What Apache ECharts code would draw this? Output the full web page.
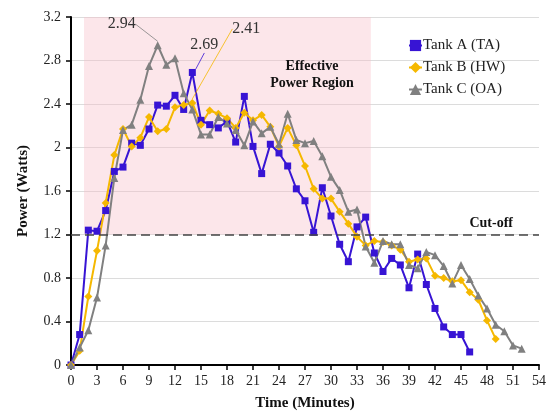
<!DOCTYPE html>
<html>
<head>
<meta charset="utf-8">
<script src="https://cdn.jsdelivr.net/npm/echarts@6/dist/echarts.min.js"></script>
<style>
  html, body { margin: 0; padding: 0; background: #fff; }
  #chart { width: 554px; height: 413px; }
</style>
</head>
<body>
<div id="chart"></div>
<script>
// power readings, one per minute starting at t = 0
const tankA = [0, 0.28, 1.24, 1.23, 1.42, 1.78, 1.82, 2.04, 2.02, 2.17, 2.39, 2.38, 2.48, 2.35, 2.69, 2.25, 2.21, 2.18, 2.24, 2.05, 2.47, 2.01, 1.76, 2.03, 1.95, 1.83, 1.62, 1.51, 1.22, 1.63, 1.37, 1.11, 0.95, 1.27, 1.36, 1.03, 0.86, 0.98, 0.92, 0.71, 1.02, 0.74, 0.52, 0.35, 0.28, 0.28, 0.12];
const tankB = [0, 0.13, 0.63, 1.05, 1.49, 1.93, 2.17, 2.01, 2.09, 2.28, 2.15, 2.17, 2.37, 2.39, 2.41, 2.21, 2.34, 2.31, 2.27, 2.18, 2.32, 2.25, 2.30, 2.19, 2.01, 2.18, 2.02, 1.83, 1.62, 1.53, 1.53, 1.41, 1.30, 1.18, 1.10, 1.14, 1.13, 1.10, 1.06, 0.95, 0.97, 0.98, 0.82, 0.80, 0.77, 0.78, 0.67, 0.60, 0.41, 0.24];
const tankC = [0, 0.16, 0.32, 0.62, 1.10, 1.72, 2.16, 2.21, 2.44, 2.75, 2.94, 2.76, 2.82, 2.50, 2.35, 2.12, 2.12, 2.28, 2.22, 2.16, 2.02, 2.24, 2.13, 2.19, 2.03, 2.31, 2.07, 2.04, 2.06, 1.92, 1.73, 1.61, 1.41, 1.43, 1.09, 0.94, 1.14, 1.11, 1.11, 0.92, 0.89, 1.04, 1.01, 0.91, 0.75, 0.92, 0.79, 0.64, 0.52, 0.37, 0.31, 0.18, 0.15];
const seriesNames = ['Tank A (TA)', 'Tank B (HW)', 'Tank C (OA)'];
const cutOff = 1.2;
const regionX = [1.5, 34.6];   // effective power region, minutes
const regionY = [1.2, 3.2];

const serif = '"Liberation Serif", "DejaVu Serif", serif';

// peak of each series gets an annotated label
function toData(arr, color) {
  let peak = 0;
  arr.forEach((v, i) => { if (v > arr[peak]) peak = i; });
  return arr.map((v, i) => {
    if (i !== peak) return [i, v];
    return {
      value: [i, v],
      label: {
        show: true,
        formatter: v.toFixed(2),
        color: '#333',
        fontFamily: serif,
        fontSize: 16
      },
      labelLine: { show: true, lineStyle: { color: color, width: 0.8 } }
    };
  });
}

const labelShift = {
  0: { dx: 12, dy: -11 },
  1: { dx: 54, dy: -57 },
  2: { dx: -36, dy: -4 }
};

const chart = echarts.init(document.getElementById('chart'));
const colors = ['#3714d4', '#f5b800', '#808080'];

const option = {
  animation: false,
  grid: { left: 71, right: 15, top: 17, bottom: 48, outerBoundsMode: 'none' },
  legend: {
    orient: 'vertical',
    left: 403,
    top: 33,
    itemGap: 7,
    itemWidth: 13,
    itemHeight: 14,
    textStyle: { fontFamily: serif, fontSize: 15, color: '#222', padding: [0, 0, 0, -4] },
    data: seriesNames
  },
  xAxis: {
    type: 'value',
    min: 0,
    max: 54,
    interval: 3,
    name: 'Time (Minutes)',
    nameLocation: 'middle',
    nameGap: 31,
    nameTextStyle: { fontFamily: serif, fontSize: 15, fontWeight: 'bold', color: '#111' },
    axisLine: { lineStyle: { color: '#000', width: 2 } },
    axisTick: { show: true, length: 5, lineStyle: { color: '#000', width: 1.5 } },
    axisLabel: { fontFamily: serif, fontSize: 14, color: '#222', margin: 9 },
    splitLine: { show: false }
  },
  yAxis: {
    type: 'value',
    min: 0,
    max: 3.2,
    interval: 0.4,
    name: 'Power (Watts)',
    nameLocation: 'middle',
    nameGap: 40,
    nameTextStyle: { fontFamily: serif, fontSize: 15, fontWeight: 'bold', color: '#111' },
    axisLine: { show: true, lineStyle: { color: '#000', width: 2 } },
    axisTick: { show: true, length: 5, lineStyle: { color: '#000', width: 1.5 } },
    axisLabel: {
      fontFamily: serif, fontSize: 14, color: '#222', margin: 10,
      formatter: v => String(Math.round(v * 10) / 10)
    },
    splitLine: { lineStyle: { color: '#dcdcdc', width: 1 } }
  },
  graphic: [{
    type: 'text',
    x: 312,
    y: 58,
    z: 100,
    silent: true,
    style: {
      text: 'Effective\nPower Region',
      textAlign: 'center',
      fill: '#111',
      font: 'bold 14px ' + serif,
      lineHeight: 17
    }
  }],
  series: [
    {
      name: seriesNames[0],
      type: 'line',
      data: toData(tankA, colors[0]),
      color: colors[0],
      symbol: 'rect',
      symbolSize: 7,
      lineStyle: { width: 2 },
      labelLayout: p => labelShift[0],
      markArea: {
        silent: true,
        itemStyle: { color: 'rgba(248,190,200,0.38)' },
        data: [[{ xAxis: regionX[0], yAxis: regionY[0] }, { xAxis: regionX[1], yAxis: regionY[1] }]]
      },
      markLine: {
        silent: true,
        symbol: 'none',
        lineStyle: { color: '#444', type: [9, 5], width: 1.5 },
        label: {
          position: 'insideEndTop',
          formatter: 'Cut-off',
          fontFamily: serif,
          fontSize: 14,
          fontWeight: 'bold',
          color: '#111',
          distance: [26, 4]
        },
        data: [{ yAxis: cutOff }]
      }
    },
    {
      name: seriesNames[1],
      type: 'line',
      data: toData(tankB, colors[1]),
      color: colors[1],
      symbol: 'diamond',
      symbolSize: 8,
      lineStyle: { width: 2 },
      labelLayout: p => labelShift[1]
    },
    {
      name: seriesNames[2],
      type: 'line',
      data: toData(tankC, colors[2]),
      color: colors[2],
      symbol: 'triangle',
      symbolSize: 8,
      lineStyle: { width: 2 },
      labelLayout: p => labelShift[2]
    }
  ]
};

chart.setOption(option);
</script>
</body>
</html>
